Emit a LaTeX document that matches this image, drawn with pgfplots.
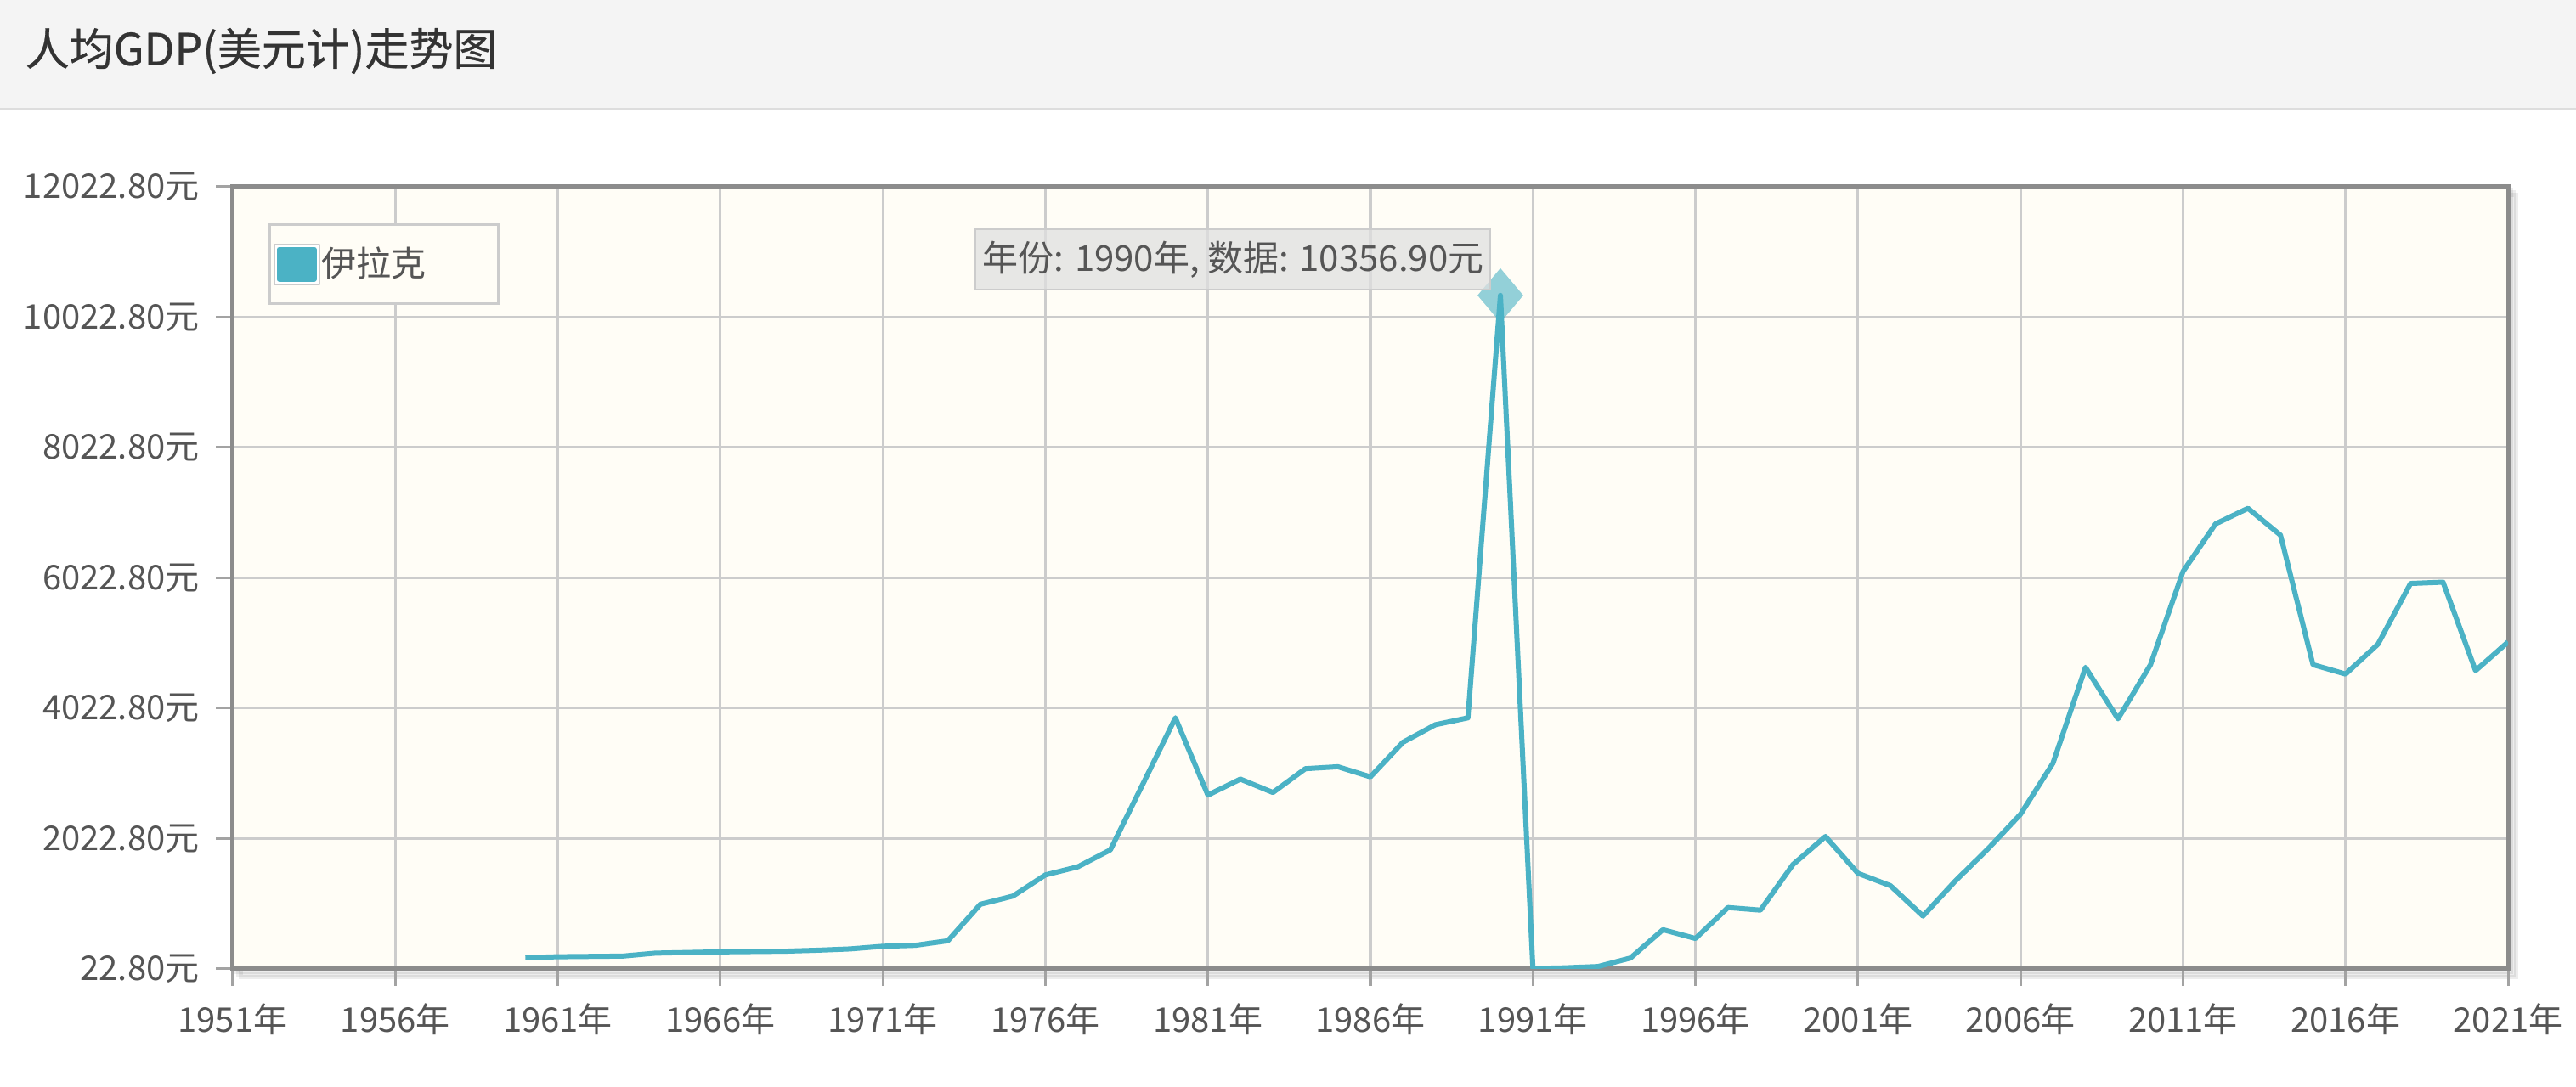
\documentclass[border=0pt]{standalone}
\usepackage{fontspec}
\setmainfont{Noto Sans CJK SC}
\newfontfamily\titlefont[FakeBold=0.5]{Noto Sans CJK SC}
\usepackage{pgfplots}
\pgfplotsset{compat=1.18}

\definecolor{series}{HTML}{4BB2C5}
\definecolor{gridbg}{HTML}{FFFDF6}
\definecolor{gridln}{HTML}{CCCCCC}
\definecolor{frame}{HTML}{8C8C8C}
\definecolor{ticktext}{HTML}{555555}
\definecolor{headbg}{HTML}{F4F4F4}
\definecolor{headln}{HTML}{DDDDDD}

\begin{document}
\begin{tikzpicture}
% page: 3032 x 1280 px, 1 px = 0.25pt
\useasboundingbox (0,0) rectangle (758pt,320pt);
\fill[white] (0,0) rectangle (758pt,320pt);
\fill[headbg] (0,288pt) rectangle (758pt,320pt);
\draw[headln, line width=0.6pt] (0,288pt) -- (758pt,288pt);
\node[anchor=west, inner sep=0pt, text=black!80, font=\titlefont\fontsize{13}{15}\selectfont]
  at (7.25pt,305pt) {人均GDP(美元计)走势图};

% soft shadow of the plot frame
\foreach \i in {1,2,3}
  \draw[black, opacity=0.07, line width=1.25pt, shift={(\i*0.8pt,-\i*0.8pt)}]
    (68.5pt,34.75pt) rectangle (738pt,265pt);

\begin{axis}[
    at={(68.5pt,34.75pt)}, anchor=south west,
    scale only axis,
    width=669.5pt, height=230.25pt,
    xmin=1951, xmax=2021,
    ymin=22.8, ymax=12022.8,
    scaled ticks=false,
    xtick={1951,1956,...,2021},
    xticklabels={1951年,1956年,1961年,1966年,1971年,1976年,1981年,1986年,1991年,1996年,2001年,2006年,2011年,2016年,2021年},
    ytick={22.8,2022.8,4022.8,6022.8,8022.8,10022.8,12022.8},
    yticklabels={22.80元,2022.80元,4022.80元,6022.80元,8022.80元,10022.80元,12022.80元},
    tick pos=left,
    tick align=outside,
    major tick length=5pt,
    tick style={frame!80, line width=0.75pt},
    ticklabel style={text=ticktext, font=\fontsize{10}{12}\selectfont, inner sep=0pt},
    xticklabel style={anchor=center, yshift=-9.7pt},
    yticklabel style={anchor=east, xshift=-4.7pt},
    grid=major,
    grid style={gridln, line width=0.75pt},
    axis line style={frame, line width=1.25pt},
    axis background/.style={fill=gridbg},
    legend style={at={(0.0157,0.953)}, anchor=north west,
      draw=gridln, line width=0.75pt, fill=gridbg,
      inner xsep=1pt, inner ysep=4.5pt,
      font=\fontsize{10.25}{12}\selectfont, text=ticktext,
      nodes={inner xsep=0.5pt}},
    legend image code/.code={
      \draw[gridln, fill=white, line width=0.5pt] (0pt,-5.875pt) rectangle (13.25pt,5.875pt);
      \fill[series] (1.5pt,-4.375pt) rectangle (11.75pt,4.375pt);
    },
]

\addplot[series, line width=1.5pt, line join=round] coordinates {
  (1960,196) (1961,210) (1962,215) (1963,220) (1964,265) (1965,275)
  (1966,285) (1967,290) (1968,295) (1969,310) (1970,330) (1971,370)
  (1972,385) (1973,455) (1974,1015) (1975,1140) (1976,1465) (1977,1590)
  (1978,1850) (1979,2860) (1980,3875) (1981,2690) (1982,2935) (1983,2730)
  (1984,3095) (1985,3125) (1986,2970) (1987,3500) (1988,3770) (1989,3875)
  (1990,10356.9) (1991,30) (1992,40) (1993,60) (1994,190) (1995,625)
  (1996,490) (1997,965) (1998,925) (1999,1625) (2000,2055) (2001,1490)
  (2002,1300) (2003,835) (2004,1375) (2005,1865) (2006,2395) (2007,3180)
  (2008,4650) (2009,3860) (2010,4690) (2011,6120) (2012,6850) (2013,7090)
  (2014,6678) (2015,4691) (2016,4547) (2017,5006) (2018,5937) (2019,5957)
  (2020,4600) (2021,5039)
};
\addlegendentry{\makebox[50.5pt][l]{伊拉克}}

% highlighted point
\addplot[series, only marks, mark=diamond*, mark size=8pt,
  mark options={draw opacity=0, fill=series, fill opacity=0.6, xscale=1.12}, forget plot]
  coordinates {(1990,10356.9)};
\end{axis}

% tooltip
\draw[gridln, fill=black!12, fill opacity=0.75, line width=0.6pt]
  (287pt,234.75pt) rectangle (438.5pt,252.5pt);
\node[anchor=west, inner sep=0pt, text=ticktext, font=\fontsize{10.5}{12}\selectfont]
  at (289pt,243.6pt) {年份: 1990年, 数据: 10356.90元};
\end{tikzpicture}
\end{document}
